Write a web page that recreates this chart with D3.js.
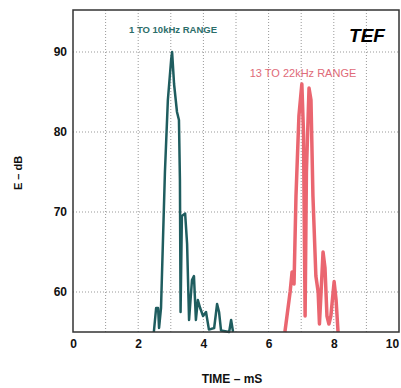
<!DOCTYPE html>
<html>
<head>
<meta charset="utf-8">
<script src="https://cdn.jsdelivr.net/npm/d3@7"></script>
<style>
  body { margin: 0; background: #fff; }
  text { font-family: "Liberation Sans", Arial, sans-serif; }
</style>
</head>
<body>
<div id="chart"></div>
<script>
// time (ms) and level (dB)
var lowTime = [2.48, 2.55, 2.61, 2.64, 2.70, 2.82, 2.91, 3.01, 3.04, 3.10, 3.19, 3.25, 3.28, 3.30, 3.34, 3.44, 3.50, 3.56, 3.65, 3.71, 3.77, 3.83, 3.90, 3.99, 4.08, 4.17, 4.33, 4.42, 4.48, 4.54, 4.79, 4.85, 4.91];
var lowDb   = [55, 58, 58, 55.5, 58, 75, 84, 89, 90, 86, 82.5, 81.5, 74, 57.5, 69.5, 69.8, 66, 56.5, 61.5, 62, 56.5, 59, 58, 57, 57.5, 55.3, 55.5, 58.5, 57.5, 55.2, 55, 56.5, 55];

var highTime = [6.50, 6.66, 6.72, 6.78, 6.84, 6.93, 7.02, 7.07, 7.12, 7.16, 7.24, 7.30, 7.36, 7.45, 7.52, 7.56, 7.61, 7.67, 7.73, 7.79, 7.85, 7.91, 8.01, 8.07, 8.13];
var highDb   = [55, 60, 62.5, 61, 72, 82, 86, 80, 57, 75, 85.5, 84, 72, 62, 60, 56, 60, 65, 63, 57, 56, 57, 61.3, 59, 55];

var xTicks = [0, 2, 4, 6, 8, 10];
var yTicks = [60, 70, 80, 90];
var xGrid = [1, 2, 3, 4, 5, 6, 7, 8, 9];

var width = 401;
var height = 388;

var svg = d3.select("#chart")
  .append("svg")
  .attr("width", width)
  .attr("height", height);

var x = d3.scaleLinear().domain([0, 10]).range([73, 399]);
var y = d3.scaleLinear().domain([55, 95.25]).range([332, 10]);

// grid
svg.append("g")
  .selectAll("line")
  .data(xGrid)
  .enter()
  .append("line")
  .attr("x1", function (d) { return x(d); })
  .attr("x2", function (d) { return x(d); })
  .attr("y1", y(95.25))
  .attr("y2", y(55))
  .attr("stroke", "#999")
  .attr("stroke-dasharray", "1,2");

svg.append("g")
  .selectAll("line")
  .data(yTicks)
  .enter()
  .append("line")
  .attr("x1", x(0))
  .attr("x2", x(10))
  .attr("y1", function (d) { return y(d); })
  .attr("y2", function (d) { return y(d); })
  .attr("stroke", "#999")
  .attr("stroke-dasharray", "1,2");

// traces
var line = d3.line()
  .x(function (d) { return x(d[0]); })
  .y(function (d) { return y(d[1]); });

svg.append("path")
  .datum(d3.zip(lowTime, lowDb))
  .attr("d", line)
  .attr("fill", "none")
  .attr("stroke", "#1f5d5f")
  .attr("stroke-width", 2.5)
  .attr("stroke-linejoin", "round");

svg.append("path")
  .datum(d3.zip(highTime, highDb))
  .attr("d", line)
  .attr("fill", "none")
  .attr("stroke", "#ea6670")
  .attr("stroke-width", 3.5)
  .attr("stroke-linejoin", "round");

// frame
svg.append("rect")
  .attr("x", x(0))
  .attr("y", y(95.25))
  .attr("width", x(10) - x(0))
  .attr("height", y(55) - y(95.25))
  .attr("fill", "none")
  .attr("stroke", "#333")
  .attr("stroke-width", 1.5);

// axes
var xAxis = svg.append("g")
  .attr("transform", "translate(0," + y(55) + ")")
  .call(d3.axisBottom(x).tickValues(xTicks).tickSize(0).tickPadding(7));
xAxis.select(".domain").remove();
xAxis.selectAll("text")
  .attr("font-family", "Liberation Sans, Arial, sans-serif")
  .attr("font-size", 12)
  .attr("font-weight", "bold")
  .attr("fill", "#111")
  .attr("dx", function (d) { return d === 10 ? -7 : 0; });

var yAxis = svg.append("g")
  .attr("transform", "translate(" + x(0) + ",0)")
  .call(d3.axisLeft(y).tickValues(yTicks).tickSize(0).tickPadding(6));
yAxis.select(".domain").remove();
yAxis.selectAll("text")
  .attr("font-family", "Liberation Sans, Arial, sans-serif")
  .attr("font-size", 12)
  .attr("font-weight", "bold")
  .attr("fill", "#111");

// labels
svg.append("text")
  .attr("x", 232)
  .attr("y", 383)
  .attr("text-anchor", "middle")
  .style("font-size", "12px")
  .style("font-weight", "bold")
  .attr("fill", "#111")
  .text("TIME – mS");

svg.append("text")
  .attr("transform", "translate(22,173) rotate(-90)")
  .attr("text-anchor", "middle")
  .style("font-size", "11px")
  .style("font-weight", "bold")
  .attr("fill", "#111")
  .text("E – dB");

svg.append("text")
  .attr("x", 367)
  .attr("y", 42)
  .attr("text-anchor", "middle")
  .style("font-size", "19px")
  .style("font-weight", "bold")
  .style("font-style", "italic")
  .attr("fill", "#000")
  .text("TEF");

svg.append("text")
  .attr("x", 173)
  .attr("y", 33)
  .attr("text-anchor", "middle")
  .style("font-size", "9.5px")
  .style("font-weight", "bold")
  .attr("fill", "#2c6e6a")
  .text("1 TO 10kHz RANGE");

svg.append("text")
  .attr("x", 303)
  .attr("y", 77)
  .attr("text-anchor", "middle")
  .style("font-size", "11px")
  .attr("fill", "#e06a78")
  .text("13 TO 22kHz RANGE");
</script>
</body>
</html>
